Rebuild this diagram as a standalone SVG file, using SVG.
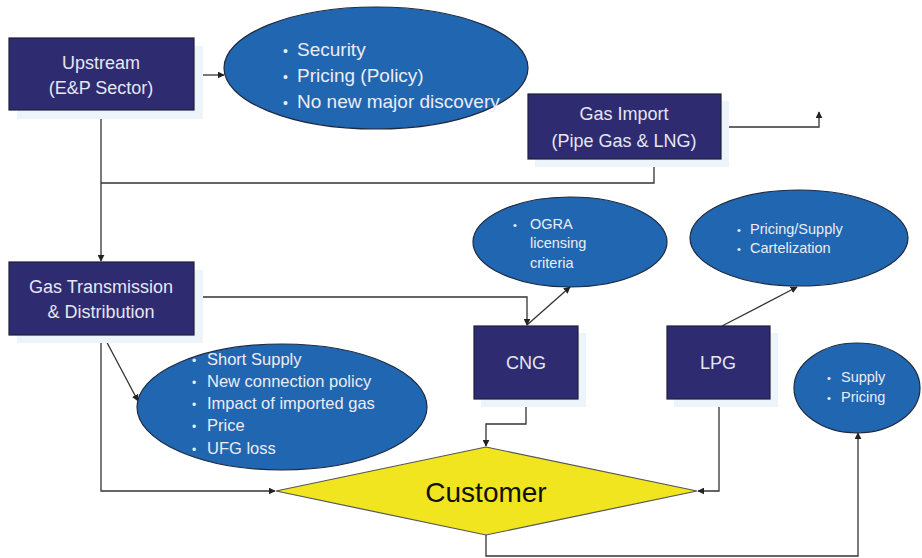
<svg xmlns="http://www.w3.org/2000/svg" width="922" height="558" viewBox="0 0 922 558">
<defs>
<style>
.box{fill:#2e2b70;stroke:#1e1e3a;stroke-width:1.2}
.shadow{fill:#edf4fa}
.ell{fill:#2166b0;stroke:#1e2a40;stroke-width:1.2}
.bt{font-family:"Liberation Sans",Arial,sans-serif;fill:#e6e6f4;font-size:18px;text-anchor:middle}
.et{font-family:"Liberation Sans",Arial,sans-serif;fill:#ececf6}
.ln{fill:none;stroke:#333;stroke-width:1.3}
</style>
<marker id="ah" viewBox="0 0 10 10" refX="9" refY="5" markerWidth="7" markerHeight="7" orient="auto" markerUnits="userSpaceOnUse">
<path d="M0,0 L10,5 L0,10 z" fill="#222"/>
</marker>
</defs>
<rect width="922" height="558" fill="#fff"/>

<g id="connectors">
<line class="ln" x1="194" y1="75" x2="224" y2="75" marker-end="url(#ah)"/>
<polyline class="ln" points="101,110 101,261" marker-end="url(#ah)"/>
<polyline class="ln" points="101,183 654,183 654,159"/>
<polyline class="ln" points="721,127 819,127 819,112" marker-end="url(#ah)"/>
<polyline class="ln" points="194,297 527,297 527,325" marker-end="url(#ah)"/>
<line class="ln" x1="527" y1="325" x2="570" y2="287" marker-end="url(#ah)"/>
<line class="ln" x1="722" y1="326" x2="797" y2="287" marker-end="url(#ah)"/>
<line class="ln" x1="103" y1="335" x2="138" y2="401" marker-end="url(#ah)"/>
<polyline class="ln" points="101,335 101,491 275,491" marker-end="url(#ah)"/>
<polyline class="ln" points="526,399 526,424 486,424 486,446" marker-end="url(#ah)"/>
<polyline class="ln" points="719,399 719,491 698,491" marker-end="url(#ah)"/>
<polyline class="ln" points="486,535 486,556 858,556 858,433" marker-end="url(#ah)"/>
</g>

<g id="upstream">
<rect class="shadow" x="17" y="46" width="186" height="73"/>
<rect class="box" x="9" y="38" width="185" height="72"/>
<text class="bt" x="101" y="69">Upstream</text>
<text class="bt" x="101" y="94">(E&amp;P Sector)</text>
</g>

<g id="upstream-issues">
<ellipse class="ell" cx="376" cy="68" rx="152" ry="61"/>
<text class="et" font-size="19"><tspan x="283" y="56" font-size="14">•</tspan><tspan x="297" y="56">Security</tspan><tspan x="283" y="82" font-size="14">•</tspan><tspan x="297" y="82">Pricing (Policy)</tspan><tspan x="283" y="108" font-size="14">•</tspan><tspan x="297" y="108">No new major discovery</tspan></text>
</g>

<g id="gas-import">
<rect class="shadow" x="535" y="101" width="194" height="66"/>
<rect class="box" x="528" y="94" width="193" height="65"/>
<text class="bt" x="624" y="120">Gas Import</text>
<text class="bt" x="624" y="147">(Pipe Gas &amp; LNG)</text>
</g>

<g id="gas-td">
<rect class="shadow" x="17" y="270" width="186" height="73"/>
<rect class="box" x="9" y="262" width="185" height="73"/>
<text class="bt" x="101" y="293">Gas Transmission</text>
<text class="bt" x="101" y="318">&amp; Distribution</text>
</g>

<g id="td-issues">
<ellipse class="ell" cx="282" cy="407" rx="145" ry="63"/>
<text class="et" font-size="16.5"><tspan x="192" y="365" font-size="12">•</tspan><tspan x="207" y="365">Short Supply</tspan><tspan x="192" y="387" font-size="12">•</tspan><tspan x="207" y="387">New connection policy</tspan><tspan x="192" y="409" font-size="12">•</tspan><tspan x="207" y="409">Impact of imported gas</tspan><tspan x="192" y="431" font-size="12">•</tspan><tspan x="207" y="431">Price</tspan><tspan x="192" y="454" font-size="12">•</tspan><tspan x="207" y="454">UFG loss</tspan></text>
</g>

<g id="ogra">
<ellipse class="ell" cx="570" cy="242" rx="97" ry="45"/>
<text class="et" font-size="14.5"><tspan x="513" y="229" font-size="11">•</tspan><tspan x="530" y="229">OGRA</tspan><tspan x="530" y="248">licensing</tspan><tspan x="530" y="268">criteria</tspan></text>
</g>

<g id="lpg-issues">
<ellipse class="ell" cx="799" cy="238" rx="109" ry="48"/>
<text class="et" font-size="14.5"><tspan x="737" y="234" font-size="11">•</tspan><tspan x="750" y="234">Pricing/Supply</tspan><tspan x="737" y="253" font-size="11">•</tspan><tspan x="750" y="253">Cartelization</tspan></text>
</g>

<g id="cng">
<rect class="shadow" x="481" y="333" width="105" height="74"/>
<rect class="box" x="474" y="326" width="104" height="73"/>
<text class="bt" x="526" y="369">CNG</text>
</g>

<g id="lpg">
<rect class="shadow" x="674" y="333" width="104" height="74"/>
<rect class="box" x="667" y="326" width="103" height="73"/>
<text class="bt" x="718" y="369">LPG</text>
</g>

<g id="customer-issues">
<ellipse class="ell" cx="857" cy="388" rx="63" ry="45"/>
<text class="et" font-size="14.5"><tspan x="827" y="382" font-size="11">•</tspan><tspan x="841" y="382">Supply</tspan><tspan x="827" y="402" font-size="11">•</tspan><tspan x="841" y="402">Pricing</tspan></text>
</g>

<g id="customer">
<polygon points="276,491 486,447 697,491 486,535" fill="#f0e51e" stroke="#555" stroke-width="1.2"/>
<text x="486" y="502" font-family="Liberation Sans,Arial,sans-serif" font-size="28" fill="#111" text-anchor="middle">Customer</text>
</g>
</svg>
